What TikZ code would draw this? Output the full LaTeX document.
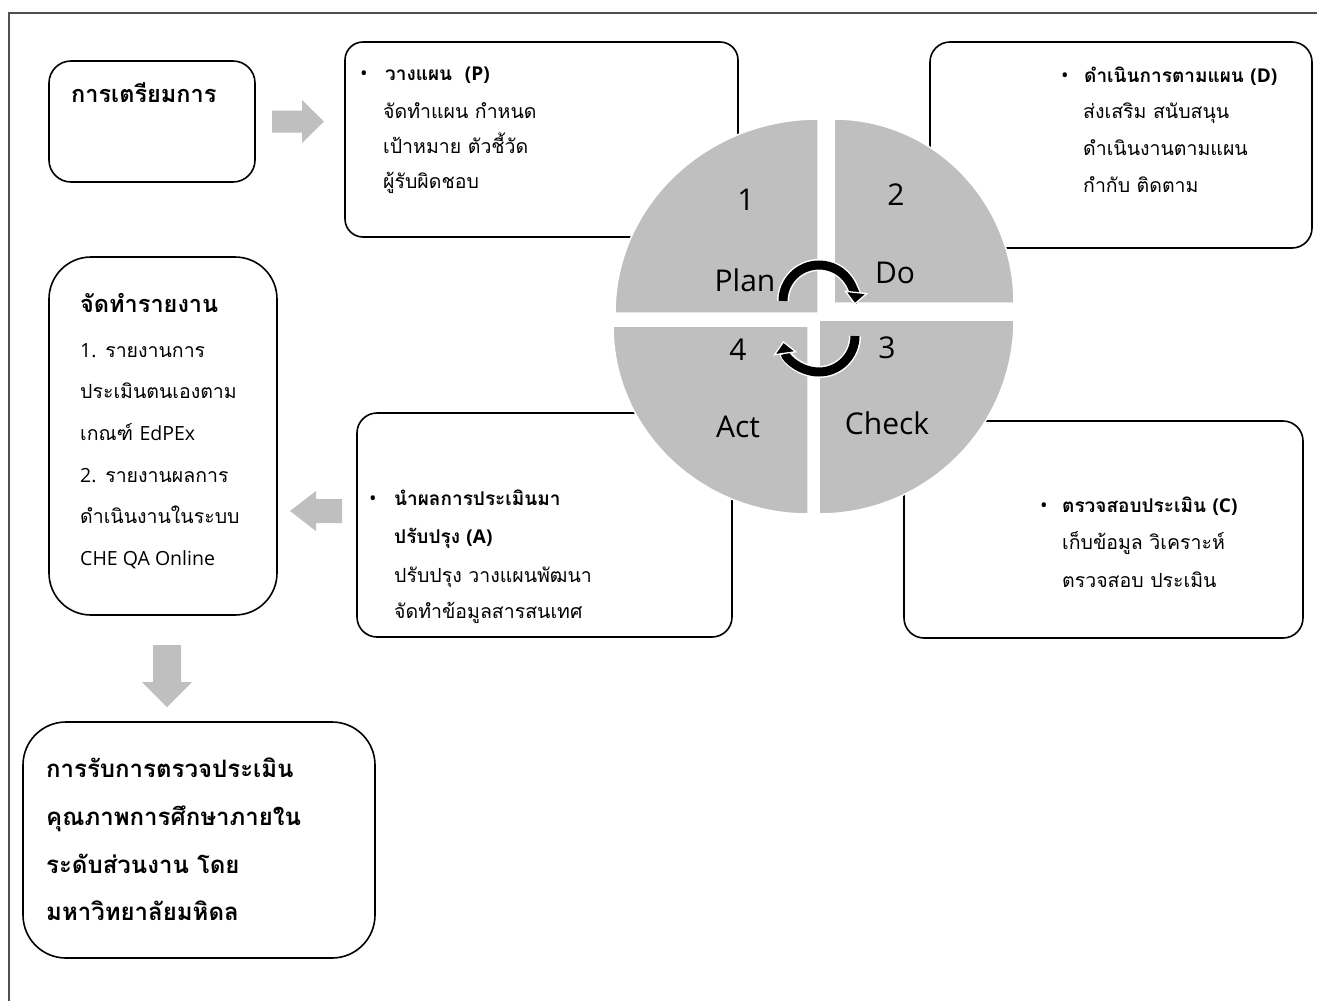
\documentclass[tikz,border=0pt]{standalone}
\usepackage{fontspec}
\setmainfont{Open Sans}
\newfontfamily\thai[Script=Thai]{Loma}
\newfontfamily\lat{Open Sans}
\usetikzlibrary{arrows.meta}
\definecolor{cg}{HTML}{BFBFBF}
\definecolor{framec}{HTML}{505050}
\begin{document}
\begin{tikzpicture}[x=1pt,y=1pt,
  box/.style={draw=black, line width=1.6pt, rounded corners=#1, fill=white,
    anchor=north west, inner sep=0pt, outer sep=0pt},
  tx/.style={anchor=base west, inner sep=0pt, font=\thai\fontsize{19.5}{22}\selectfont},
  tb/.style={anchor=base west, inner sep=0pt, font=\thai\bfseries\fontsize{19}{22}\selectfont},
  tt/.style={anchor=base west, inner sep=0pt, font=\thai\bfseries\fontsize{23.5}{26}\selectfont},
  tu/.style={anchor=base west, inner sep=0pt, font=\thai\bfseries\fontsize{24}{27}\selectfont},
  bul/.style={anchor=base west, inner sep=0pt, font=\lat\fontsize{20}{22}\selectfont},
  lbl/.style={inner sep=0pt, font=\lat\fontsize{30}{34}\selectfont},
  blockarrow/.style={fill=cg},
  quad/.style={fill=cg, draw=white, line width=1.5pt}
]
\useasboundingbox (0,0) rectangle (1317,-1001);
% outer frame
\draw[framec, line width=1.6pt] (9,-1001) -- (9,-13) -- (1317,-13);

% boxes
\node[box=22pt, minimum width=206pt, minimum height=121pt] (prep) at (49,-61) {};
\node[box=18pt, minimum width=393pt, minimum height=195pt] (planbox) at (345,-42) {};
\node[box=20pt, minimum width=382pt, minimum height=206pt] (dobox) at (930,-42) {};
\node[box=42pt, minimum width=228pt, minimum height=358pt] (report) at (49,-257) {};
\node[box=20pt, minimum width=375pt, minimum height=224pt] (actbox) at (357,-413) {};
\node[box=20pt, minimum width=399pt, minimum height=217pt] (checkbox) at (904,-421) {};
\node[box=43pt, minimum width=352pt, minimum height=236pt] (audit) at (23,-722) {};

% block arrows
\fill[blockarrow] (272,-110.5) -- (302,-110.5) -- (302,-100) -- (324,-121.5) -- (302,-143) -- (302,-132.5) -- (272,-132.5) -- cycle;
\fill[blockarrow] (342,-499) -- (316,-499) -- (316,-491) -- (290,-511) -- (316,-531) -- (316,-523) -- (342,-523) -- cycle;
\fill[blockarrow] (153,-645) -- (181,-645) -- (181,-682) -- (192,-682) -- (167,-707) -- (142,-682) -- (153,-682) -- cycle;

% circle quadrants
\path[quad] (818,-313) -- ++(-203,0) arc[start angle=180, end angle=90, x radius=203, y radius=194] -- cycle;
\path[quad] (834,-303) -- ++(180,0) arc[start angle=0, end angle=90, x radius=180, y radius=184] -- cycle;
\path[quad] (819,-320) -- ++(195,0) arc[start angle=0, end angle=-90, x radius=195, y radius=194] -- cycle;
\path[quad] (808,-326) -- ++(-195,0) arc[start angle=180, end angle=270, x radius=195, y radius=188] -- cycle;

% cycle arrows
\draw[white, line width=12pt, shorten >=10pt] (783,-301) arc[start angle=180, end angle=-6, radius=36];
\draw[black, line width=9pt, -{Triangle[length=13pt, width=24pt, fill=black, color=white, line width=1.3pt]}] (783,-301) arc[start angle=180, end angle=-6, radius=36];
\draw[white, line width=12pt, shorten >=10pt] (855,-336) arc[start angle=0, end angle=-172, radius=36];
\draw[black, line width=9pt, -{Triangle[length=13pt, width=24pt, fill=black, color=white, line width=1.3pt]}] (855,-336) arc[start angle=0, end angle=-172, radius=36];

% quadrant labels
\node[lbl] (n1) at (746,-200) {1};
\node[lbl] (n2) at (896,-195) {2};
\node[lbl] (lplan) at (745,-280) {Plan};
\node[lbl] (ldo) at (895,-273) {Do};
\node[lbl] (n4) at (738,-350) {4};
\node[lbl] (n3) at (887,-348) {3};
\node[lbl] (lact) at (738,-427) {Act};
\node[lbl] (lcheck) at (887,-423) {Check};

% preparation
\node[tt] (t1) at (71,-102) {การเตรียมการ};

% plan text
\node[bul] (pb) at (360,-80) {•};
\node[tb] (p1) at (385,-80) {วางแผน\ \ {\lat (P)}};
\node[tx] (p2) at (383,-118) {จัดทำแผน กำหนด};
\node[tx] (p3) at (383,-153) {เป้าหมาย ตัวชี้วัด};
\node[tx] (p4) at (383,-188) {ผู้รับผิดชอบ};

% do text
\node[bul] (db) at (1061,-82) {•};
\node[tb] (d1) at (1084,-82) {ดำเนินการตามแผน {\lat (D)}};
\node[tx] (d2) at (1083,-118) {ส่งเสริม สนับสนุน};
\node[tx] (d3) at (1083,-155) {ดำเนินงานตามแผน};
\node[tx] (d4) at (1083,-192) {กำกับ ติดตาม};

% report text
\node[tt] (r0) at (80,-312) {จัดทำรายงาน};
\node[tx] (r1) at (80,-357) {{\lat 1.} รายงานการ};
\node[tx] (r2) at (80,-398) {ประเมินตนเองตาม};
\node[tx] (r3) at (80,-440) {เกณฑ์ {\lat EdPEx}};
\node[tx] (r4) at (80,-482) {{\lat 2.} รายงานผลการ};
\node[tx] (r5) at (80,-523) {ดำเนินงานในระบบ};
\node[tx] (r6) at (80,-565) {{\lat CHE QA Online}};

% act text
\node[bul] (ab) at (369,-505) {•};
\node[tb] (a1) at (394,-505) {นำผลการประเมินมา};
\node[tb] (a2) at (394,-543) {ปรับปรุง {\lat (A)}};
\node[tx] (a3) at (394,-582) {ปรับปรุง วางแผนพัฒนา};
\node[tx] (a4) at (394,-618) {จัดทำข้อมูลสารสนเทศ};

% check text
\node[bul] (cb) at (1040,-512) {•};
\node[tb] (c1) at (1062,-512) {ตรวจสอบประเมิน {\lat (C)}};
\node[tx] (c2) at (1062,-549) {เก็บข้อมูล วิเคราะห์};
\node[tx] (c3) at (1062,-587) {ตรวจสอบ ประเมิน};

% audit text
\node[tu] (u1) at (46,-777) {การรับการตรวจประเมิน};
\node[tu] (u2) at (46,-825) {คุณภาพการศึกษาภายใน};
\node[tu] (u3) at (46,-873) {ระดับส่วนงาน โดย};
\node[tu] (u4) at (46,-920) {มหาวิทยาลัยมหิดล};
\end{tikzpicture}
\end{document}
